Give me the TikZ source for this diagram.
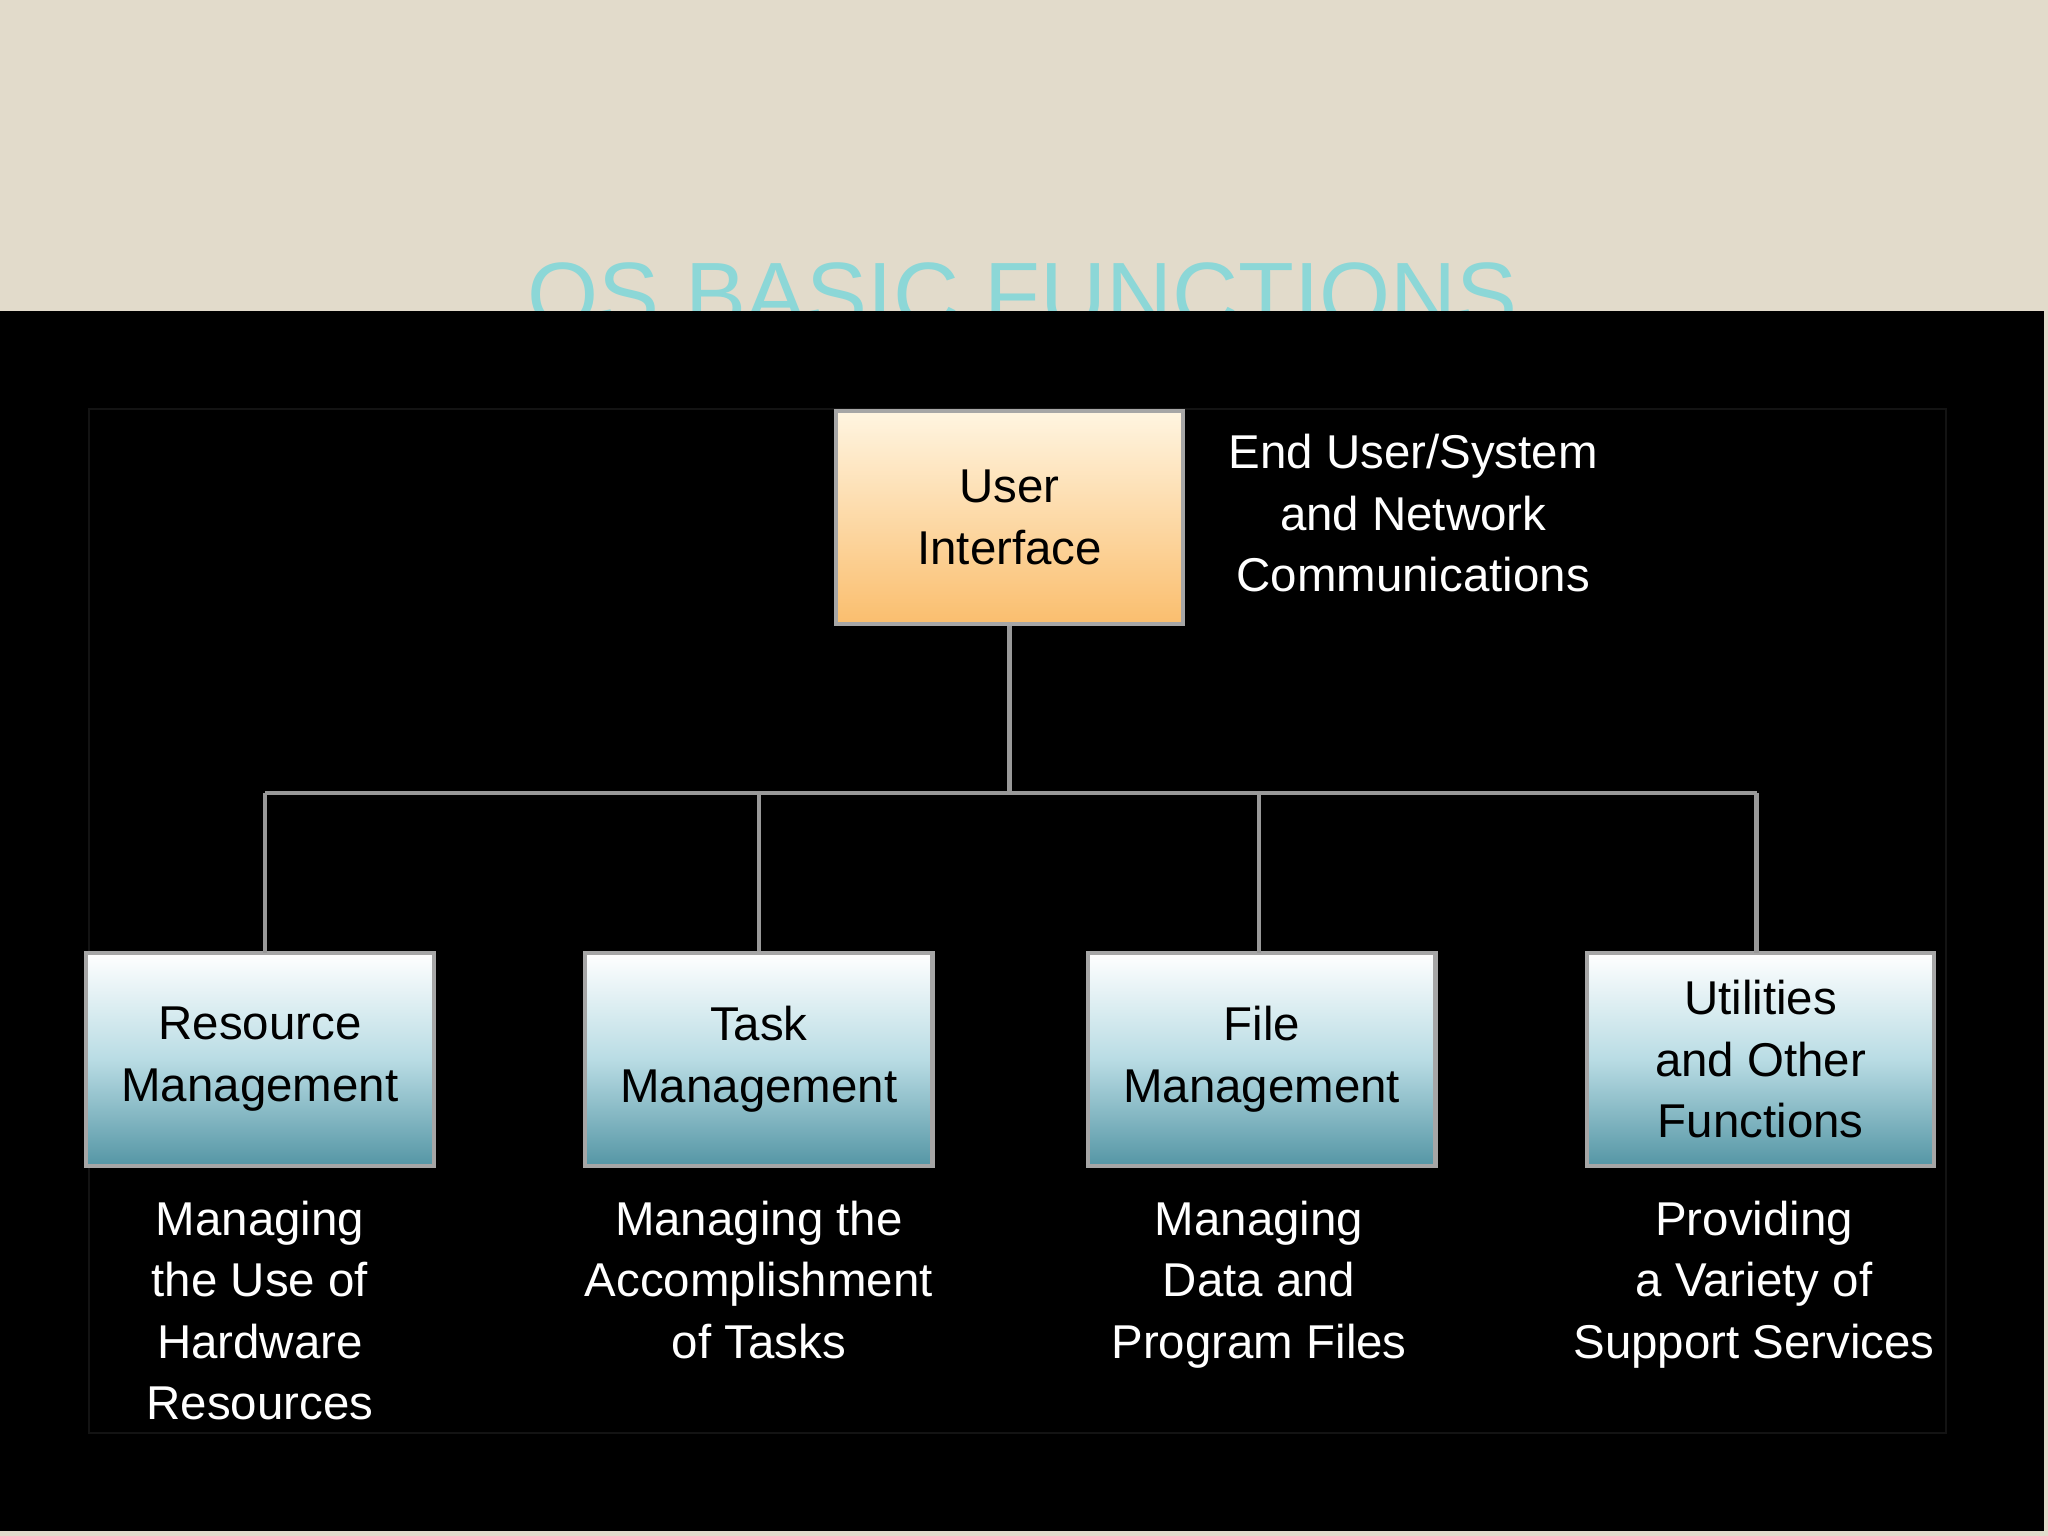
\documentclass[tikz,border=0pt]{standalone}
\usepackage{fontspec}
\setmainfont{Liberation Sans}
\definecolor{bg}{RGB}{226,219,203}
\definecolor{ttl}{RGB}{140,215,215}
\definecolor{tealB}{RGB}{85,150,165}
\definecolor{tealM}{RGB}{185,220,228}
\definecolor{orT}{RGB}{255,245,225}
\definecolor{orB}{RGB}{250,190,110}
\begin{document}
\begin{tikzpicture}[x=0.013061cm,y=-0.013061cm,
  box/.style={draw=gray!70,line width=1.2pt,minimum width=266*0.013061cm,minimum height=163*0.013061cm,align=center,font=\fontsize{13.5}{17.5}\selectfont,inner sep=0pt},
  tbox/.style={box,top color=white,bottom color=tealB,middle color=tealM},
  desc/.style={align=center,text=white,font=\fontsize{13.5}{17.5}\selectfont},
  ln/.style={draw=gray!80,line width=1.3pt}]
\useasboundingbox (0,0) rectangle (1568,1176);
\fill[bg] (0,0) rectangle (1568,1176);
\node[text=ttl,font=\fontsize{26}{30}\selectfont,anchor=base] (title) at (783,250) {OS BASIC FUNCTIONS};
\fill[black] (0,238) rectangle (1565,1172);
\draw[gray!15!black] (68,313) rectangle (1490,1097);
\node[box,top color=orT,bottom color=orB] (ui) at (773,396) {User\\Interface};
\node[desc,anchor=center] (uil) at (1082,393) {End User/System\\and Network\\Communications};
\node[tbox] (rm) at (199,811) {Resource\\Management};
\node[tbox] (tm) at (581,811) {Task\\Management};
\node[tbox] (fm) at (966,811) {File\\Management};
\node[tbox] (uo) at (1348,811) {Utilities\\and Other\\Functions};
\coordinate (j) at (773,607);
\draw[ln] (ui.south) -- (j);
\draw[ln] (203,607) -- (1345,607);
\draw[ln] (203,607) -- (203,730);
\draw[ln] (581,607) -- (tm.north);
\draw[ln] (964,607) -- (964,730);
\draw[ln] (1345,607) -- (1345,730);
\node[desc,anchor=north] (rmd) at (199,910) {Managing\\the Use of\\Hardware\\Resources};
\node[desc,anchor=north] (tmd) at (581,910) {Managing the\\Accomplishment\\of Tasks};
\node[desc,anchor=north] (fmd) at (964,910) {Managing\\Data and\\Program Files};
\node[desc,anchor=north] (uod) at (1343,910) {Providing\\a Variety of\\Support Services};
\end{tikzpicture}
\end{document}
